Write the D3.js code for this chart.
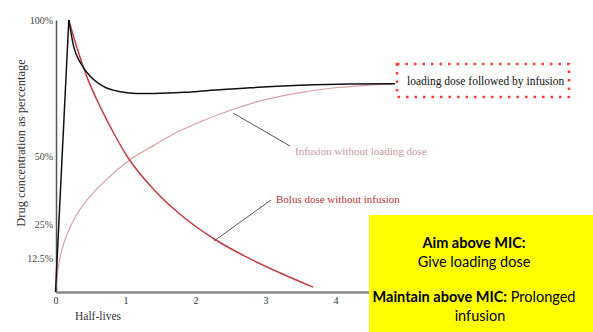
<!DOCTYPE html>
<html><head><meta charset="utf-8">
<script src="https://cdn.jsdelivr.net/npm/d3@7"></script>
<style>
html,body{margin:0;padding:0;background:#fff;}
svg{display:block;}
</style></head>
<body>
<svg id="c" width="593" height="332"></svg>
<script>
// ---- data (half-lives, % concentration) ----
const loadingT = [0, 0.19, 0.26, 0.36, 0.50, 0.69, 0.93, 1.16, 1.41, 1.84, 2.06, 2.78, 3.49, 4.21, 4.85];
const loadingV = [0, 100, 90.2, 84.1, 79.2, 75.5, 73.6, 73, 73, 73.4, 73.8, 75.1, 76, 76.5, 76.6];
const bolusT = [0.19, 0.31, 0.45, 0.65, 0.84, 1.02, 1.41, 1.84, 2.28, 2.74, 3.21, 3.68];
const bolusV = [100, 89.5, 79, 67.5, 58, 50, 37.5, 27.3, 19.3, 12.7, 7, 1.8];
const infusionT = [0, 0.05, 0.12, 0.26, 0.45, 0.69, 1.02, 1.41, 1.74, 2.06, 2.54, 3.01, 3.49, 3.96, 4.45, 4.82];
const infusionV = [0, 10.7, 18, 26.5, 33.8, 40.4, 47.8, 54, 58.8, 62.5, 67.2, 70.8, 73.3, 75, 76, 76.5];
const yTicks = [12.5, 25, 50, 100];
const yTickLabels = ["12.5%", "25%", "50%", "100%"];
const xTicks = [0, 1, 2, 3, 4];

const svg = d3.select("#c");
const x = d3.scaleLinear().domain([0, 5]).range([55.5, 405.5]);
const y = d3.scaleLinear().domain([0, 100]).range([292, 20]);
const serif = "'Liberation Serif','DejaVu Serif',serif";

// axes
const gy = svg.append("g").attr("transform", "translate(56,0)")
  .call(d3.axisLeft(y).tickValues(yTicks).tickSize(0).tickSizeOuter(0).tickPadding(3)
    .tickFormat((d, i) => yTickLabels[i]));
gy.select(".domain").attr("stroke", "#555").attr("stroke-width", 1.5);
gy.selectAll("text").attr("font-family", serif).attr("font-size", 10).attr("fill", "#444");

const gx = svg.append("g").attr("transform", "translate(0,292)")
  .call(d3.axisBottom(x).tickValues(xTicks).tickSize(0).tickSizeOuter(0).tickPadding(5)
    .tickFormat(d3.format("d")));
gx.select(".domain").attr("stroke", "#8a8a8a").attr("stroke-width", 2.5);
gx.selectAll("text").attr("font-family", serif).attr("font-size", 10).attr("fill", "#333");

svg.append("text").attr("x", 75).attr("y", 320).attr("font-family", serif)
  .attr("font-size", 11.5).attr("fill", "#333").text("Half-lives");
svg.append("text").attr("transform", "translate(25,143) rotate(-90)")
  .attr("text-anchor", "middle").attr("font-family", serif).attr("font-size", 12.5)
  .attr("fill", "#333").text("Drug concentration as percentage");

// curves
const zip = (t, v) => t.map((d, i) => [d, v[i]]);
const smooth = d3.line().x(d => x(d[0])).y(d => y(d[1])).curve(d3.curveMonotoneX);
const straight = d3.line().x(d => x(d[0])).y(d => y(d[1]));

const inf = zip(infusionT, infusionV);
svg.append("path").attr("d", smooth(inf)).attr("fill", "none")
  .attr("stroke", "#d7a0a4").attr("stroke-width", 1.2);

const bol = zip(bolusT, bolusV);
svg.append("path").attr("d", smooth(bol)).attr("fill", "none")
  .attr("stroke", "#c43c44").attr("stroke-width", 1.5);

const load = zip(loadingT, loadingV);
svg.append("path").attr("d", straight(load.slice(0, 2))).attr("fill", "none")
  .attr("stroke", "#111").attr("stroke-width", 1.5);
svg.append("path").attr("d", smooth(load.slice(1))).attr("fill", "none")
  .attr("stroke", "#111").attr("stroke-width", 1.5);

// annotations
svg.append("line").attr("x1", 233).attr("y1", 113).attr("x2", 290).attr("y2", 146)
  .attr("stroke", "#555").attr("stroke-width", 1);
svg.append("text").attr("x", 295).attr("y", 155).attr("font-family", serif)
  .attr("font-size", 11).attr("fill", "#c39aa0").text("Infusion without loading dose");

svg.append("line").attr("x1", 214).attr("y1", 241).attr("x2", 271).attr("y2", 200)
  .attr("stroke", "#555").attr("stroke-width", 1);
svg.append("text").attr("x", 276).attr("y", 203).attr("font-family", serif)
  .attr("font-size", 11).attr("fill", "#b5303c").text("Bolus dose without infusion");

svg.append("text").attr("x", 407).attr("y", 85).attr("font-family", serif)
  .attr("font-size", 11.5).attr("fill", "#111").text("loading dose followed by infusion");
svg.append("rect").attr("x", 397).attr("y", 64).attr("width", 172).attr("height", 33)
  .attr("fill", "none").attr("stroke", "#ff3b3b").attr("stroke-width", 2.5)
  .attr("stroke-dasharray", "2.5,6");

// yellow box
svg.append("rect").attr("x", 369).attr("y", 215).attr("width", 224).attr("height", 117)
  .attr("fill", "#ffff00");
const sans = "Lato,'Open Sans',sans-serif";
const t1 = svg.append("text").attr("x", 474).attr("y", 248).attr("text-anchor", "middle")
  .attr("font-family", sans).attr("font-size", 14.5).attr("fill", "#000");
t1.append("tspan").attr("font-weight", "bold").text("Aim above MIC:");
svg.append("text").attr("x", 474).attr("y", 267).attr("text-anchor", "middle")
  .attr("font-family", sans).attr("font-size", 14.5).attr("fill", "#000").text("Give loading dose");
const t3 = svg.append("text").attr("x", 474).attr("y", 302).attr("text-anchor", "middle")
  .attr("font-family", sans).attr("font-size", 14.5).attr("fill", "#000");
t3.append("tspan").attr("font-weight", "bold").text("Maintain above MIC:");
t3.append("tspan").text(" Prolonged");
svg.append("text").attr("x", 480).attr("y", 321).attr("text-anchor", "middle")
  .attr("font-family", sans).attr("font-size", 14.5).attr("fill", "#000").text("infusion");
</script>
</body></html>
